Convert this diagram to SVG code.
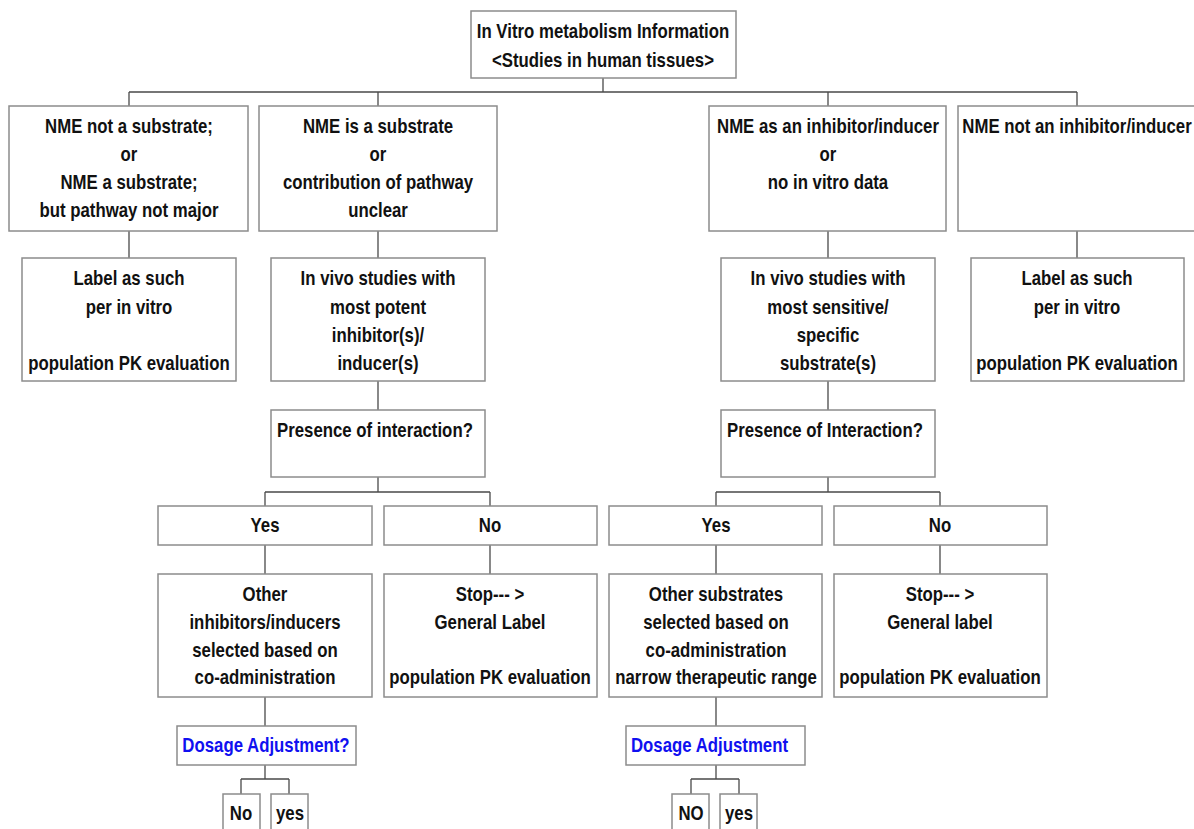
<svg xmlns="http://www.w3.org/2000/svg" width="1194" height="829" viewBox="0 0 1194 829">
<style>
.bx{fill:#fff;stroke:#8c8c8c;stroke-width:1.5}
.t{font-family:"Liberation Sans",Arial,sans-serif;font-weight:bold;font-size:20px;fill:#111;text-anchor:middle}
.s{text-anchor:start}
.b{fill:#1010f0}
.c{fill:none;stroke:#4a4a4a;stroke-width:1.3}
</style>
<rect width="1194" height="829" fill="#fff"/>
<g id="connectors">
<path class="c" d="M603 78V92M129 92H1077M129 92V106M378 92V106M828 92V106M1077 92V106"/>
<path class="c" d="M129 231V258M378 231V258M828 231V258M1077 231V258"/>
<path class="c" d="M378 381V410M828 381V410"/>
<path class="c" d="M378 477V492M265 492H490M265 492V506M490 492V506"/>
<path class="c" d="M828 477V492M716 492H940M716 492V506M940 492V506"/>
<path class="c" d="M265 545V574M490 545V574M716 545V574M940 545V574"/>
<path class="c" d="M265 697V726M716 697V726"/>
<path class="c" d="M265 765V779M241 779H289M241 779V794M289 779V794"/>
<path class="c" d="M716 765V779M691 779H739M691 779V794M739 779V794"/>
</g>
<g id="top">
<rect class="bx" x="471" y="11" width="265" height="67"/>
<text class="t" transform="translate(603 0) scale(0.84 1)"><tspan x="0" y="38">In Vitro metabolism Information</tspan><tspan x="0" y="67">&lt;Studies in human tissues&gt;</tspan></text>
</g>
<g id="n1a">
<rect class="bx" x="9" y="106" width="239" height="125"/>
<text class="t" transform="translate(129 0) scale(0.84 1)"><tspan x="0" y="133">NME not a substrate;</tspan><tspan x="0" y="161">or</tspan><tspan x="0" y="189">NME a substrate;</tspan><tspan x="0" y="217">but pathway not major</tspan></text>
</g>
<g id="n1b">
<rect class="bx" x="259" y="106" width="238" height="125"/>
<text class="t" transform="translate(378 0) scale(0.84 1)"><tspan x="0" y="133">NME is a substrate</tspan><tspan x="0" y="161">or</tspan><tspan x="0" y="189">contribution of pathway</tspan><tspan x="0" y="217">unclear</tspan></text>
</g>
<g id="n1c">
<rect class="bx" x="709" y="106" width="237" height="125"/>
<text class="t" transform="translate(828 0) scale(0.84 1)"><tspan x="0" y="133">NME as an inhibitor/inducer</tspan><tspan x="0" y="161">or</tspan><tspan x="0" y="189">no in vitro data</tspan></text>
</g>
<g id="n1d">
<rect class="bx" x="958" y="106" width="239" height="125"/>
<text class="t" transform="translate(1077 0) scale(0.84 1)"><tspan x="0" y="133">NME not an inhibitor/inducer</tspan></text>
</g>
<g id="n2a">
<rect class="bx" x="22" y="258" width="214" height="123"/>
<text class="t" transform="translate(129 0) scale(0.84 1)"><tspan x="0" y="285">Label as such</tspan><tspan x="0" y="314">per in vitro</tspan><tspan x="0" y="370">population PK evaluation</tspan></text>
</g>
<g id="n2b">
<rect class="bx" x="271" y="258" width="214" height="123"/>
<text class="t" transform="translate(378 0) scale(0.84 1)"><tspan x="0" y="285">In vivo studies with</tspan><tspan x="0" y="314">most potent</tspan><tspan x="0" y="342">inhibitor(s)/</tspan><tspan x="0" y="370">inducer(s)</tspan></text>
</g>
<g id="n2c">
<rect class="bx" x="721" y="258" width="214" height="123"/>
<text class="t" transform="translate(828 0) scale(0.84 1)"><tspan x="0" y="285">In vivo studies with</tspan><tspan x="0" y="314">most sensitive/</tspan><tspan x="0" y="342">specific</tspan><tspan x="0" y="370">substrate(s)</tspan></text>
</g>
<g id="n2d">
<rect class="bx" x="971" y="258" width="213" height="123"/>
<text class="t" transform="translate(1077 0) scale(0.84 1)"><tspan x="0" y="285">Label as such</tspan><tspan x="0" y="314">per in vitro</tspan><tspan x="0" y="370">population PK evaluation</tspan></text>
</g>
<g id="n3a">
<rect class="bx" x="271" y="410" width="214" height="67"/>
<text class="t s" transform="translate(277 0) scale(0.84 1)" x="0" y="437">Presence of interaction?</text>
</g>
<g id="n3b">
<rect class="bx" x="721" y="410" width="214" height="67"/>
<text class="t s" transform="translate(727 0) scale(0.84 1)" x="0" y="437">Presence of Interaction?</text>
</g>
<g id="yes1">
<rect class="bx" x="158" y="506" width="214" height="39"/>
<text class="t" transform="translate(265 0) scale(0.84 1)" x="0" y="532">Yes</text>
</g>
<g id="no1">
<rect class="bx" x="384" y="506" width="213" height="39"/>
<text class="t" transform="translate(490 0) scale(0.84 1)" x="0" y="532">No</text>
</g>
<g id="yes2">
<rect class="bx" x="609" y="506" width="213" height="39"/>
<text class="t" transform="translate(716 0) scale(0.84 1)" x="0" y="532">Yes</text>
</g>
<g id="no2">
<rect class="bx" x="834" y="506" width="213" height="39"/>
<text class="t" transform="translate(940 0) scale(0.84 1)" x="0" y="532">No</text>
</g>
<g id="n4a">
<rect class="bx" x="158" y="574" width="214" height="123"/>
<text class="t" transform="translate(265 0) scale(0.84 1)"><tspan x="0" y="601">Other</tspan><tspan x="0" y="629">inhibitors/inducers</tspan><tspan x="0" y="657">selected based on</tspan><tspan x="0" y="684">co-administration</tspan></text>
</g>
<g id="n4b">
<rect class="bx" x="384" y="574" width="213" height="123"/>
<text class="t" transform="translate(490 0) scale(0.84 1)"><tspan x="0" y="601">Stop--- &gt;</tspan><tspan x="0" y="629">General Label</tspan><tspan x="0" y="684">population PK evaluation</tspan></text>
</g>
<g id="n4c">
<rect class="bx" x="609" y="574" width="213" height="123"/>
<text class="t" transform="translate(716 0) scale(0.84 1)"><tspan x="0" y="601">Other substrates</tspan><tspan x="0" y="629">selected based on</tspan><tspan x="0" y="657">co-administration</tspan><tspan x="0" y="684">narrow therapeutic range</tspan></text>
</g>
<g id="n4d">
<rect class="bx" x="834" y="574" width="213" height="123"/>
<text class="t" transform="translate(940 0) scale(0.84 1)"><tspan x="0" y="601">Stop--- &gt;</tspan><tspan x="0" y="629">General label</tspan><tspan x="0" y="684">population PK evaluation</tspan></text>
</g>
<g id="dose1">
<rect class="bx" x="177" y="726" width="179" height="39"/>
<text class="t b" transform="translate(266 0) scale(0.84 1)" x="0" y="752">Dosage Adjustment?</text>
</g>
<g id="dose2">
<rect class="bx" x="626" y="726" width="179" height="39"/>
<text class="t s b" transform="translate(631 0) scale(0.84 1)" x="0" y="752">Dosage Adjustment</text>
</g>
<g id="no3">
<rect class="bx" x="223" y="794" width="37" height="40"/>
<text class="t" transform="translate(241 0) scale(0.84 1)" x="0" y="820">No</text>
</g>
<g id="yes3">
<rect class="bx" x="271" y="794" width="37" height="40"/>
<text class="t" transform="translate(290 0) scale(0.84 1)" x="0" y="820">yes</text>
</g>
<g id="no4">
<rect class="bx" x="672" y="794" width="37" height="40"/>
<text class="t" transform="translate(691 0) scale(0.84 1)" x="0" y="820">NO</text>
</g>
<g id="yes4">
<rect class="bx" x="720" y="794" width="37" height="40"/>
<text class="t" transform="translate(739 0) scale(0.84 1)" x="0" y="820">yes</text>
</g>
</svg>
